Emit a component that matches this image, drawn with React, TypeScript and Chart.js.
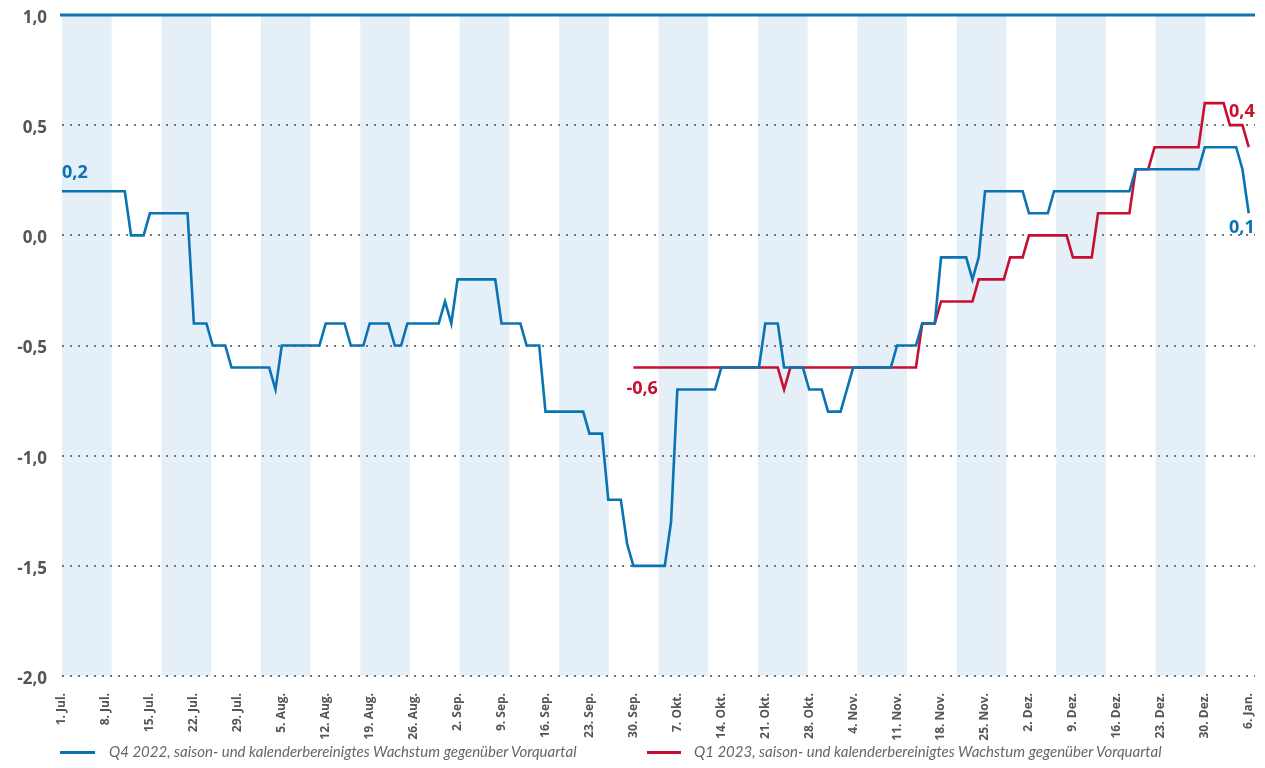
import React, { useEffect, useRef } from "react";
import { Chart, registerables } from "chart.js";

Chart.register(...registerables);

// x axis: days since 1 July (0 = 1. Jul., 189 = 6. Jan.)
const tickDays = [0, 7, 14, 21, 28, 35, 42, 49, 56, 63, 70, 77, 84, 91, 98, 105, 112, 119, 126, 133, 140, 147, 154, 161, 168, 175, 182, 189];
const tickLabels = [
  "1. Jul.", "8. Jul.", "15. Jul.", "22. Jul.", "29. Jul.", "5. Aug.", "12. Aug.", "19. Aug.", "26. Aug.",
  "2. Sep.", "9. Sep.", "16. Sep.", "23. Sep.", "30. Sep.", "7. Okt.", "14. Okt.", "21. Okt.", "28. Okt.",
  "4. Nov.", "11. Nov.", "18. Nov.", "25. Nov.", "2. Dez.", "9. Dez.", "16. Dez.", "23. Dez.", "30. Dez.", "6. Jan.",
];

// Q4 2022 nowcast, one value per day from 1 July
const q4Values = [
  0.2, 0.2, 0.2, 0.2, 0.2, 0.2, 0.2,
  0.2, 0.2, 0.2, 0.2, 0.0, 0.0, 0.0,
  0.1, 0.1, 0.1, 0.1, 0.1, 0.1, 0.1,
  -0.4, -0.4, -0.4, -0.5, -0.5, -0.5, -0.6,
  -0.6, -0.6, -0.6, -0.6, -0.6, -0.6, -0.7,
  -0.5, -0.5, -0.5, -0.5, -0.5, -0.5, -0.5,
  -0.4, -0.4, -0.4, -0.4, -0.5, -0.5, -0.5,
  -0.4, -0.4, -0.4, -0.4, -0.5, -0.5, -0.4,
  -0.4, -0.4, -0.4, -0.4, -0.4, -0.3, -0.4,
  -0.2, -0.2, -0.2, -0.2, -0.2, -0.2, -0.2,
  -0.4, -0.4, -0.4, -0.4, -0.5, -0.5, -0.5,
  -0.8, -0.8, -0.8, -0.8, -0.8, -0.8, -0.8,
  -0.9, -0.9, -0.9, -1.2, -1.2, -1.2, -1.4,
  -1.5, -1.5, -1.5, -1.5, -1.5, -1.5, -1.3,
  -0.7, -0.7, -0.7, -0.7, -0.7, -0.7, -0.7,
  -0.6, -0.6, -0.6, -0.6, -0.6, -0.6, -0.6,
  -0.4, -0.4, -0.4, -0.6, -0.6, -0.6, -0.6,
  -0.7, -0.7, -0.7, -0.8, -0.8, -0.8, -0.7,
  -0.6, -0.6, -0.6, -0.6, -0.6, -0.6, -0.6,
  -0.5, -0.5, -0.5, -0.5, -0.4, -0.4, -0.4,
  -0.1, -0.1, -0.1, -0.1, -0.1, -0.2, -0.1,
  0.2, 0.2, 0.2, 0.2, 0.2, 0.2, 0.2,
  0.1, 0.1, 0.1, 0.1, 0.2, 0.2, 0.2,
  0.2, 0.2, 0.2, 0.2, 0.2, 0.2, 0.2,
  0.2, 0.2, 0.2, 0.3, 0.3, 0.3, 0.3,
  0.3, 0.3, 0.3, 0.3, 0.3, 0.3, 0.3,
  0.4, 0.4, 0.4, 0.4, 0.4, 0.4, 0.3,
  0.1,
];

// Q1 2023 nowcast, one value per day from 30 Sep (day 91)
const q1StartDay = 91;
const q1Values = [
  -0.6, -0.6, -0.6, -0.6, -0.6, -0.6, -0.6,
  -0.6, -0.6, -0.6, -0.6, -0.6, -0.6, -0.6,
  -0.6, -0.6, -0.6, -0.6, -0.6, -0.6, -0.6,
  -0.6, -0.6, -0.6, -0.7, -0.6, -0.6, -0.6,
  -0.6, -0.6, -0.6, -0.6, -0.6, -0.6, -0.6,
  -0.6, -0.6, -0.6, -0.6, -0.6, -0.6, -0.6,
  -0.6, -0.6, -0.6, -0.6, -0.4, -0.4, -0.4,
  -0.3, -0.3, -0.3, -0.3, -0.3, -0.3, -0.2,
  -0.2, -0.2, -0.2, -0.2, -0.1, -0.1, -0.1,
  0.0, 0.0, 0.0, 0.0, 0.0, 0.0, 0.0,
  -0.1, -0.1, -0.1, -0.1, 0.1, 0.1, 0.1,
  0.1, 0.1, 0.1, 0.3, 0.3, 0.3, 0.4,
  0.4, 0.4, 0.4, 0.4, 0.4, 0.4, 0.4,
  0.6, 0.6, 0.6, 0.6, 0.5, 0.5, 0.5,
  0.4,
];

const seriesLabels = [
  "Q4 2022, saison- und kalenderbereinigtes Wachstum gegenüber Vorquartal",
  "Q1 2023, saison- und kalenderbereinigtes Wachstum gegenüber Vorquartal",
];

const BLUE = "#0a73b4";
const RED = "#c70f32";
const BAND = "#e4eff7";
const FONT = "'Open Sans', 'Noto Sans', sans-serif";
const LEGEND_FONT = "Lato, 'Open Sans', sans-serif";

const fmt = (v: number) => v.toFixed(1).replace(".", ",");

const bandsPlugin = {
  id: "bands",
  beforeDraw(chart: any) {
    const { ctx, chartArea } = chart;
    const w = (chartArea.right - chartArea.left) / 24;
    ctx.save();
    ctx.fillStyle = BAND;
    for (let i = 0; i < 12; i++) {
      ctx.fillRect(chartArea.left + 2 * i * w, chartArea.top, w, chartArea.bottom - chartArea.top);
    }
    ctx.restore();
  },
};

const topLinePlugin = {
  id: "topLine",
  beforeDatasetsDraw(chart: any) {
    const { ctx, chartArea, scales } = chart;
    const y = scales.y.getPixelForValue(1);
    ctx.save();
    ctx.strokeStyle = BLUE;
    ctx.lineWidth = 3;
    ctx.beginPath();
    ctx.moveTo(chartArea.left - 2, y);
    ctx.lineTo(chartArea.right, y);
    ctx.stroke();
    ctx.restore();
  },
};

const valueLabelsPlugin = {
  id: "valueLabels",
  afterDatasetsDraw(chart: any) {
    const { ctx, scales } = chart;
    const x = scales.x;
    const y = scales.y;
    const lastDay = q4Values.length - 1;
    ctx.save();
    ctx.font = `bold 18px ${FONT}`;
    ctx.textBaseline = "alphabetic";
    // first Q4 value
    ctx.fillStyle = BLUE;
    ctx.textAlign = "left";
    ctx.fillText(fmt(q4Values[0]), x.getPixelForValue(0), y.getPixelForValue(q4Values[0]) - 13);
    // first Q1 value
    ctx.fillStyle = RED;
    ctx.fillText(fmt(q1Values[0]), x.getPixelForValue(q1StartDay) - 7, y.getPixelForValue(q1Values[0]) + 26);
    // last values
    ctx.textAlign = "right";
    const q1Last = q1Values[q1Values.length - 1];
    ctx.fillText(fmt(q1Last), x.getPixelForValue(lastDay) + 6, y.getPixelForValue(q1Last + 0.2) + 14);
    ctx.fillStyle = BLUE;
    const q4Last = q4Values[lastDay];
    ctx.fillText(fmt(q4Last), x.getPixelForValue(lastDay) + 6, y.getPixelForValue(q4Last) + 20);
    ctx.restore();
  },
};

export default function App() {
  const ref = useRef<HTMLCanvasElement | null>(null);

  useEffect(() => {
    if (!ref.current) return;
    const q4Data = q4Values.map((v, i) => ({ x: i, y: v }));
    const q1Data = q1Values.map((v, i) => ({ x: q1StartDay + i, y: v }));
    const chart = new Chart(ref.current, {
      type: "line",
      data: {
        datasets: [
          {
            label: seriesLabels[0],
            data: q4Data,
            borderColor: BLUE,
            backgroundColor: BLUE,
            borderWidth: 2.6,
            pointRadius: 0,
            tension: 0,
            borderJoinStyle: "miter",
          },
          {
            label: seriesLabels[1],
            data: q1Data,
            borderColor: RED,
            backgroundColor: RED,
            borderWidth: 2.6,
            pointRadius: 0,
            tension: 0,
            borderJoinStyle: "miter",
          },
        ],
      },
      options: {
        animation: false,
        responsive: false,
        devicePixelRatio: 1,
        layout: { padding: { top: 7, right: 2, left: 0, bottom: 0 } },
        plugins: {
          legend: { display: false },
          tooltip: { enabled: false },
        },
        scales: {
          x: {
            type: "linear",
            min: 0,
            max: 190,
            afterBuildTicks: (s: any) => {
              s.ticks = tickDays.map((v) => ({ value: v }));
            },
            afterFit: (s: any) => {
              s.height = 67;
              s.paddingLeft = 0;
              s.paddingRight = 0;
            },
            ticks: {
              autoSkip: false,
              minRotation: 90,
              maxRotation: 90,
              padding: 9,
              color: "#555",
              font: { family: FONT, size: 12, weight: "bold" },
              callback: (v: any) => tickLabels[tickDays.indexOf(Number(v))],
            },
            grid: { display: false },
            border: { display: false },
          },
          y: {
            min: -2,
            max: 1,
            afterFit: (s: any) => {
              s.width = 54;
              s.paddingTop = 0;
              s.paddingBottom = 0;
            },
            ticks: {
              stepSize: 0.5,
              padding: 15,
              labelOffset: 3,
              color: "#555",
              font: { family: FONT, size: 17, weight: "bold" },
              callback: (v: any) => fmt(Number(v)),
            },
            grid: {
              drawTicks: false,
              lineWidth: 2,
              color: (ctx: any) => (ctx.tick && ctx.tick.value === 1 ? "rgba(0,0,0,0)" : "#777"),
            },
            border: { display: false, dash: [2, 6] },
          },
        },
      },
      plugins: [bandsPlugin, topLinePlugin, valueLabelsPlugin],
    });
    return () => chart.destroy();
  }, []);

  const legendText: React.CSSProperties = {
    position: "absolute",
    top: 734,
    fontFamily: LEGEND_FONT,
    fontStyle: "italic",
    fontSize: 15,
    lineHeight: "19px",
    color: "#666",
    whiteSpace: "nowrap",
  };

  return (
    <div style={{ position: "relative", width: 1249, height: 752 }}>
      <canvas ref={ref} width={1249} height={735} style={{ display: "block" }} />
      <div style={{ position: "absolute", left: 52, top: 743, width: 35, height: 3, background: BLUE }} />
      <div style={{ ...legendText, left: 101 }}>{seriesLabels[0]}</div>
      <div style={{ position: "absolute", left: 639, top: 743, width: 34, height: 3, background: RED }} />
      <div style={{ ...legendText, left: 686 }}>{seriesLabels[1]}</div>
    </div>
  );
}
